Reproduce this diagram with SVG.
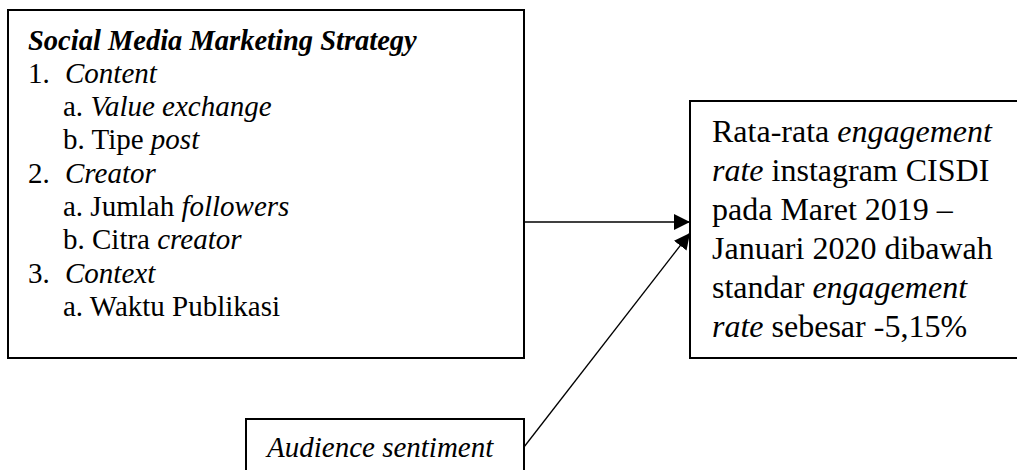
<svg xmlns="http://www.w3.org/2000/svg" width="1017" height="470" viewBox="0 0 1017 470">
<style>
.box{fill:#fff;stroke:#000;stroke-width:2}
.t{font-family:"Liberation Serif","Times New Roman",serif;fill:#000}
.i{font-style:italic}
.b{font-weight:bold}
.ln{stroke:#000;stroke-width:1.3;fill:none}
</style>
<defs>
<marker id="ah" markerWidth="16" markerHeight="16" viewBox="0 0 16 16" refX="16" refY="8" orient="auto" markerUnits="userSpaceOnUse">
<path d="M0,0 L16,8 L0,16 Z" fill="#000"/>
</marker>
</defs>
<rect width="1017" height="470" fill="#fff"/>
<g id="strategy">
<rect class="box" x="8" y="10" width="516" height="348"/>
<text class="t i b" x="28" y="50" font-size="28.5">Social Media Marketing Strategy</text>
<g class="t" font-size="29">
<text x="28" y="83">1.</text><text class="i" x="65" y="83">Content</text>
<text x="63" y="116">a. <tspan class="i">Value exchange</tspan></text>
<text x="63" y="149">b. Tipe <tspan class="i">post</tspan></text>
<text x="28" y="183">2.</text><text class="i" x="65" y="183">Creator</text>
<text x="63" y="216">a. Jumlah <tspan class="i">followers</tspan></text>
<text x="63" y="249">b. Citra <tspan class="i">creator</tspan></text>
<text x="28" y="283">3.</text><text class="i" x="65" y="283">Context</text>
<text x="63" y="316">a. Waktu Publikasi</text>
</g>
</g>
<g id="result">
<rect class="box" x="690" y="101" width="340" height="257"/>
<g class="t" font-size="32">
<text x="712" y="142">Rata-rata <tspan class="i">engagement</tspan></text>
<text x="712" y="181"><tspan class="i">rate</tspan> instagram CISDI</text>
<text x="712" y="220">pada Maret 2019 –</text>
<text x="712" y="259">Januari 2020 dibawah</text>
<text x="712" y="298">standar <tspan class="i">engagement</tspan></text>
<text x="712" y="337"><tspan class="i">rate</tspan> sebesar -5,15%</text>
</g>
</g>
<g id="sentiment">
<rect class="box" x="246" y="419" width="278" height="70"/>
<text class="t i" x="267" y="457" font-size="29">Audience sentiment</text>
</g>
<g id="connectors">
<line class="ln" x1="524" y1="222" x2="690" y2="222" marker-end="url(#ah)"/>
<line class="ln" x1="524" y1="447" x2="690" y2="233" marker-end="url(#ah)"/>
</g>
</svg>
